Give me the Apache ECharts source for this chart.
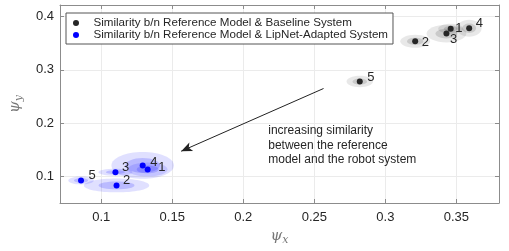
<!DOCTYPE html>
<html>
<head>
<meta charset="utf-8">
<script src="https://cdn.jsdelivr.net/npm/echarts@6/dist/echarts.min.js"></script>
<style>html,body{margin:0;padding:0;background:#fff}#c{width:509px;height:251px}</style>
</head>
<body>
<div id="c"></div>
<script>
// ---- data ----
const pointLabels = ['1', '2', '3', '4', '5'];
const baseX = [0.346, 0.321, 0.343, 0.359, 0.282];
const baseY = [0.377, 0.3535, 0.368, 0.378, 0.278];
const baseSx = [0.0088, 0.0105, 0.014, 0.0088, 0.0093];
const baseSy = [0.0092, 0.0123, 0.0166, 0.016, 0.0107];
const lipX = [0.1327, 0.1108, 0.110, 0.1292, 0.0858];
const lipY = [0.1134, 0.0834, 0.108, 0.1208, 0.0926];
const lipSx = [0.014, 0.023, 0.012, 0.022, 0.009];
const lipSy = [0.013, 0.013, 0.0065, 0.025, 0.0074];
const seriesNames = ['Similarity b/n Reference Model & Baseline System', 'Similarity b/n Reference Model & LipNet-Adapted System'];
const xTicks = [0.1, 0.15, 0.2, 0.25, 0.3, 0.35];
const xTickLabels = ['0.1', '0.15', '0.2', '0.25', '0.3', '0.35'];
const yTicks = [0.1, 0.2, 0.3, 0.4];
const yTickLabels = ['0.1', '0.2', '0.3', '0.4'];
const xRange = [0.071, 0.38];
const yRange = [0.0504, 0.4215];
const arrowFrom = [0.2565, 0.265];
const arrowTo = [0.1563, 0.1475];
const noteAt = [0.2176, 0.1585];
const noteText = 'increasing similarity\nbetween the reference\nmodel and the robot system';

// ---- presentation ----
const FONT = 'Liberation Sans, Arial, Helvetica, sans-serif';
const baseOffsets = [[1.5, 0], [3.5, 1], [0.5, 6], [3.5, -5], [4.5, -4]];
const lipOffsets = [[7.5, -2], [3.5, -5], [3.5, -5], [4.5, -3], [4.5, -5]];

function pts(xs, ys, offs) {
  return xs.map((x, i) => ({
    value: [x, ys[i]],
    name: pointLabels[i],
    label: { offset: offs[i] }
  }));
}
function ell(xs, ys, sx, sy) { return xs.map((x, i) => [x, ys[i], sx[i], sy[i]]); }

function ellRender(outer, inner) {
  return function (params, api) {
    const c = api.coord([api.value(0), api.value(1)]);
    const s = api.size([api.value(2), api.value(3)]);
    return {
      type: 'group',
      children: [
        { type: 'ellipse', shape: { cx: c[0], cy: c[1], rx: s[0], ry: s[1] }, style: { fill: outer } },
        { type: 'ellipse', shape: { cx: c[0], cy: c[1], rx: s[0] * 0.55, ry: s[1] * 0.55 }, style: { fill: inner } }
      ]
    };
  };
}

const axisColor = '#8c8c8c';
const gridColor = '#ebebeb';
function xAx(pos, main) {
  return {
    type: 'value', position: pos, min: xRange[0], max: xRange[1],
    axisLine: { show: true, onZero: false, lineStyle: { color: axisColor, width: 1 } },
    axisTick: { show: true, inside: true, length: 4, customValues: xTicks, lineStyle: { color: axisColor } },
    axisLabel: {
      show: main, customValues: xTicks, color: '#262626', fontSize: 13, fontFamily: FONT, margin: 8,
      formatter: v => { const i = xTicks.findIndex(t => Math.abs(t - v) < 1e-9); return i >= 0 ? xTickLabels[i] : ''; }
    },
    splitLine: { show: main, lineStyle: { color: gridColor, width: 1 } },
    name: main ? '{a|ψ}{b|x}' : '', nameLocation: 'middle', nameGap: 24,
    nameTextStyle: {
      rich: {
        a: { fontFamily: 'DejaVu Serif', fontStyle: 'italic', fontSize: 15, color: '#777' },
        b: { fontFamily: 'DejaVu Serif', fontStyle: 'italic', fontSize: 11, color: '#777', padding: [8, 0, 0, 0] }
      }
    }
  };
}
function yAx(pos, main) {
  return {
    type: 'value', position: pos, min: yRange[0], max: yRange[1],
    axisLine: { show: true, onZero: false, lineStyle: { color: axisColor, width: 1 } },
    axisTick: { show: true, inside: true, length: 4, customValues: yTicks, lineStyle: { color: axisColor } },
    axisLabel: {
      show: main, customValues: yTicks, color: '#262626', fontSize: 13, fontFamily: FONT, margin: 6,
      formatter: v => { const i = yTicks.findIndex(t => Math.abs(t - v) < 1e-9); return i >= 0 ? yTickLabels[i] : ''; }
    },
    splitLine: { show: main, lineStyle: { color: gridColor, width: 1 } },
    name: main ? '{a|ψ}{b|y}' : '', nameLocation: 'middle', nameGap: 35, nameRotate: 90,
    nameTextStyle: {
      rich: {
        a: { fontFamily: 'DejaVu Serif', fontStyle: 'italic', fontSize: 15, color: '#777' },
        b: { fontFamily: 'DejaVu Serif', fontStyle: 'italic', fontSize: 11, color: '#777', padding: [8, 0, 0, 0] }
      }
    }
  };
}

const labelStyle = { show: true, position: 'right', distance: 0, formatter: '{b}', color: '#262626', fontSize: 13, fontFamily: FONT };

const chart = echarts.init(document.getElementById('c'), null, { renderer: 'canvas' });
chart.setOption({
  animation: false,
  backgroundColor: '#fff',
  grid: { left: 58, right: 10, top: 5, bottom: 44, containLabel: false },
  xAxis: [xAx('bottom', true), xAx('top', false)],
  yAxis: [yAx('left', true), yAx('right', false)],
  legend: {
    orient: 'vertical', left: 66, top: 13,
    data: [{ name: seriesNames[0], icon: 'circle' }, { name: seriesNames[1], icon: 'circle' }],
    itemWidth: 25, itemHeight: 6, itemGap: 0,
    padding: [4, 5, 3, 7],
    backgroundColor: '#fff', borderColor: '#555', borderWidth: 1,
    textStyle: { fontSize: 11.6, fontFamily: FONT, color: '#262626', lineHeight: 11.6 }
  },
  series: [
    { type: 'custom', name: 'baseEll', silent: true, renderItem: ellRender('rgba(0,0,0,0.09)', 'rgba(0,0,0,0.13)'), data: ell(baseX, baseY, baseSx, baseSy), encode: { x: 0, y: 1 }, z: 1 },
    { type: 'custom', name: 'lipEll', silent: true, renderItem: ellRender('rgba(0,0,255,0.12)', 'rgba(0,0,255,0.17)'), data: ell(lipX, lipY, lipSx, lipSy), encode: { x: 0, y: 1 }, z: 1 },
    {
      type: 'scatter', name: seriesNames[0], symbolSize: 6, itemStyle: { color: '#262626', opacity: 1 },
      label: labelStyle, data: pts(baseX, baseY, baseOffsets), z: 3,
      markLine: {
        silent: true, symbol: ['none', 'arrow'], symbolSize: [7, 11],
        lineStyle: { color: '#222', width: 1, type: 'solid' }, label: { show: false },
        data: [[{ coord: arrowFrom }, { coord: arrowTo }]]
      },
      markPoint: {
        silent: true, symbol: 'circle', symbolSize: 0,
        label: { show: true, position: 'right', distance: 0, formatter: noteText, color: '#262626', fontSize: 12, fontFamily: FONT, lineHeight: 14.5, align: 'left' },
        data: [{ coord: noteAt }]
      }
    },
    {
      type: 'scatter', name: seriesNames[1], symbolSize: 6, itemStyle: { color: '#0000ff', opacity: 1 },
      label: labelStyle, data: pts(lipX, lipY, lipOffsets), z: 3
    }
  ]
});
</script>
</body>
</html>
